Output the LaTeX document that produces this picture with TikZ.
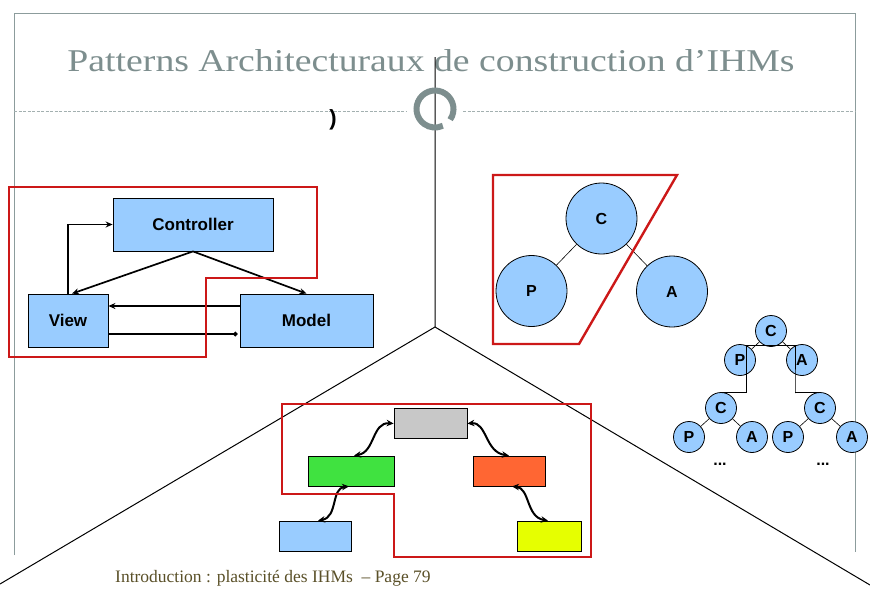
\documentclass[tikz,border=0pt]{standalone}
\usepackage{fontspec}
\setmainfont{Liberation Serif}
\setsansfont{Liberation Sans}
\newfontfamily\titlefont[FakeStretch=1.19]{Liberation Serif}
\usetikzlibrary{arrows.meta,calc}
\definecolor{titlegray}{RGB}{125,142,142}
\definecolor{framegray}{RGB}{140,156,156}
\definecolor{redbox}{RGB}{204,24,24}
\definecolor{lblue}{RGB}{153,204,255}
\definecolor{boxgray}{RGB}{200,200,200}
\definecolor{boxgreen}{RGB}{64,226,64}
\definecolor{boxorange}{RGB}{255,102,51}
\definecolor{boxyellow}{RGB}{230,255,0}
\definecolor{footcol}{RGB}{90,80,40}
\begin{document}
\begin{tikzpicture}[x=1pt,y=-1pt,
  frame/.style={draw=framegray,line width=0.9pt},
  redline/.style={draw=redbox,line width=2.4pt,line join=miter},
  mvcbox/.style={draw=black,line width=0.8pt,fill=lblue,minimum height=53pt,inner sep=0pt,
    font=\sffamily\bfseries\fontsize{17}{20}\selectfont},
  mvcarr/.style={line width=1.7pt,-{Stealth[length=7pt,width=6pt]}},
  cbox/.style={draw=black,line width=0.8pt,minimum height=30pt,inner sep=0pt},
  dbl/.style={line width=2pt,{Stealth[length=7pt,width=6.5pt]}-{Stealth[length=7pt,width=6.5pt]}},
  bigc/.style={circle,draw=black,line width=0.8pt,fill=lblue,minimum size=71pt,inner sep=0pt,
    font=\sffamily\bfseries\fontsize{16}{18}\selectfont},
  smallc/.style={circle,draw=black,line width=0.8pt,fill=lblue,minimum size=31pt,inner sep=0pt,
    font=\sffamily\bfseries\fontsize{16}{18}\selectfont},
  thinline/.style={line width=0.6pt},
  dots/.style={font=\sffamily\bfseries\fontsize{16}{18}\selectfont,inner sep=0pt}
]
\useasboundingbox (0,0) rectangle (870,600);

% slide frame
\draw[frame] (14,555) -- (14,13) -- (855,13) -- (855,552);
\draw[draw=framegray!80,line width=0.6pt,dash pattern=on 3pt off 1.5pt] (14,111) -- (407,111);
\draw[draw=framegray!80,line width=0.6pt,dash pattern=on 3pt off 1.5pt] (463,111) -- (855,111);

% title
\node[anchor=base,inner sep=0pt,text=titlegray,font=\titlefont\fontsize{31.7}{36}\selectfont] (title) at (431,71)
  {Patterns Architecturaux de construction d’IHMs};

% center lines
\coordinate (ctr) at (435,327);
\coordinate (vtop) at (435,57);
\coordinate (bl) at (0,584);
\coordinate (br) at (870,585);
\draw[line width=1pt] (vtop) -- (ctr) -- (bl);
\draw[line width=1pt] (ctr) -- (br);

% ring and paren
\coordinate (ringc) at (435,109);
\draw[draw=titlegray,line width=6pt] ([shift={(-35:18.5pt)}]ringc) arc[start angle=-35,end angle=295,radius=18.5pt];
\node[font=\sffamily\bfseries\fontsize{22}{24}\selectfont,inner sep=0pt] (paren) at (333,120) {)};

% ===== MVC =====
\node[mvcbox,minimum width=160pt] (ctrl) at (193,224.5) {Controller};
\node[mvcbox,minimum width=80pt] (view) at (68,320.5) {View};
\node[mvcbox,minimum width=133pt] (model) at (306.5,320.5) {Model};
\draw[mvcarr] (view.north) |- (ctrl.west);
\draw[mvcarr] (ctrl.south) -- ([xshift=4pt]view.north);
\draw[mvcarr] (ctrl.south) -- (model.north);
\draw[mvcarr] ([yshift=14.5pt]model.west) -- ([yshift=14.5pt]view.east);
\draw[line width=1.7pt,-{Circle[length=4.5pt]}] ([yshift=-13.5pt]view.east) -- ([yshift=-13.5pt,xshift=-2pt]model.west);
\draw[redline] (9,187) -- (317,187) -- (317,278) -- (206,278) -- (206,357) -- (9,357) -- cycle;

% ===== PAC =====
\node[bigc] (pc) at (601.5,218.5) {C};
\node[bigc] (pp) at (531.5,291) {P};
\node[bigc] (pa) at (672,291.5) {A};
\draw[thinline] (pc) -- (pp);
\draw[thinline] (pc) -- (pa);
\draw[redline] (493,175) -- (677,175) -- (579,344) -- (493,344) -- cycle;

% ===== PAC hierarchy =====
\node[smallc] (h1c) at (771,331) {C};
\node[smallc] (h1p) at (740,360) {P};
\node[smallc] (h1a) at (802,360) {A};
\node[smallc] (h2c) at (721,408) {C};
\node[smallc] (h2p) at (689,437) {P};
\node[smallc] (h2a) at (752,437) {A};
\node[smallc] (h3c) at (820,408) {C};
\node[smallc] (h3p) at (788,437) {P};
\node[smallc] (h3a) at (852,437) {A};
\foreach \a/\b in {h1c/h1p,h1c/h1a,h2c/h2p,h2c/h2a,h3c/h3p,h3c/h3a}
  \draw[thinline] (\a) -- (\b);
\coordinate (k1) at (746,345);
\coordinate (k2) at (795,345);
\coordinate (k3) at (746,393);
\coordinate (k4) at (795,393);
\draw[line width=1pt] (h2c.north) -- (h2c.north -| k3) -- (k1) -- (k2) -- (k4) -- (h3c.north -| k4) -- (h3c.north);
\node[dots] (d1) at (720,464) {...};
\node[dots] (d2) at (823,464) {...};

% ===== colour hierarchy =====
\node[cbox,fill=boxgray,minimum width=73pt] (gbox) at (430.5,423.5) {};
\node[cbox,fill=boxgreen,minimum width=86pt] (grn) at (351,471) {};
\node[cbox,fill=boxorange,minimum width=72pt] (org) at (509,471) {};
\node[cbox,fill=lblue,minimum width=72pt] (blu) at (315,536) {};
\node[cbox,fill=boxyellow,minimum width=64pt] (yel) at (549,536) {};
\draw[dbl] (gbox.west) .. controls (372,422) and (375,452) .. ([xshift=3pt]grn.north);
\draw[dbl] (gbox.east) .. controls (487,422) and (485,452) .. (org.north);
\draw[dbl] ([xshift=-2pt]grn.south) .. controls (331,488) and (338,517) .. ([xshift=3pt]blu.north);
\draw[dbl] ([xshift=3pt]org.south) .. controls (530,488) and (526,517) .. ([xshift=-1pt]yel.north);
\draw[redline] (282,404) -- (591,404) -- (591,557) -- (394,557) -- (394,494) -- (282,494) -- cycle;

% footer
\node[anchor=base west,inner sep=0pt,text=footcol,font=\fontsize{17.5}{20}\selectfont] (foot) at (115,582)
  {Introduction : plasticité des IHMs ~– Page 79};
\end{tikzpicture}
\end{document}
